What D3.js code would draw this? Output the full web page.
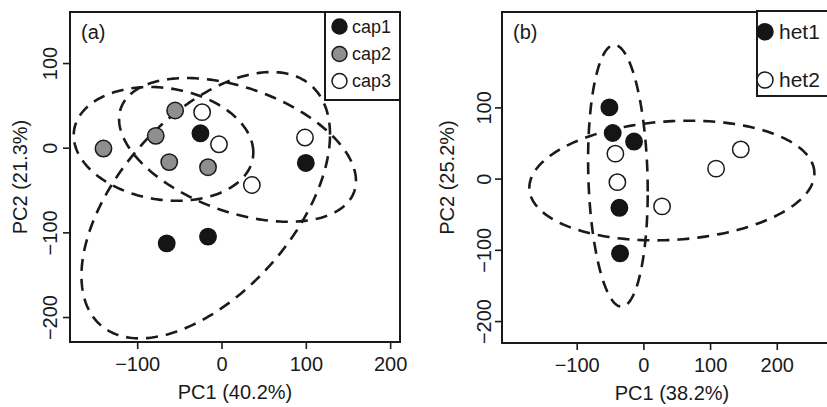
<!DOCTYPE html>
<html>
<head>
<meta charset="utf-8">
<script src="https://cdn.jsdelivr.net/npm/d3@7"></script>
<style>
  html, body { margin: 0; padding: 0; background: #fff; }
  svg { display: block; font-family: "Liberation Sans", Arial, sans-serif; }
</style>
</head>
<body>
<svg id="chart" width="827" height="407"></svg>
<script>
// ---------- DATA ----------
// Panel (a)
const capGroups = ["cap1", "cap2", "cap3"];
const cap1X = [-25, 100, -65, -16];
const cap1Y = [17, -18, -113, -105];
const cap2X = [-140, -78, -55, -62, -16];
const cap2Y = [-1, 14, 44, -17, -23];
const cap3X = [-23, -3, 36, 99];
const cap3Y = [42, 4, -44, 12];
// ellipses (centre, half extents along x / y, correlation)
const capEllCx = [-18.7, -68.8, 19];
const capEllCy = [-67.9, 4.5, -2.6];
const capEllHx = [147.4, 106.5, 140.5];
const capEllHy = [157.3, 67.2, 84.9];
const capEllR = [0.53, -0.15, -0.43];

// Panel (b)
const hetGroups = ["het1", "het2"];
const het1X = [-51, -46, -14, -36, -35];
const het1Y = [100, 64, 52, -41, -105];
const het2X = [-42, -39, 28, 109, 146];
const het2Y = [35, -5, -39, 14, 41];
const hetEllCx = [-38.2, 42.7];
const hetEllCy = [3.9, -2.7];
const hetEllHx = [44.7, 213.7];
const hetEllHy = [183.7, 84];
const hetEllR = [-0.12, 0.12];

// ticks and titles
const aXTicks = [-100, 0, 100, 200];
const aYTicks = [-200, -100, 0, 100];
const bXTicks = [-100, 0, 100, 200];
const bYTicks = [-200, -100, 0, 100];
const aXTitle = "PC1 (40.2%)";
const aYTitle = "PC2 (21.3%)";
const bXTitle = "PC1 (38.2%)";
const bYTitle = "PC2 (25.2%)";

// ---------- STYLE ----------
const fills = { black: "#151515", grey: "#8f8f8f", white: "#ffffff" };
const capFill = [fills.black, fills.grey, fills.white];
const hetFill = [fills.black, fills.white];
const ink = "#1a1a1a";

const svg = d3.select("#chart");

function ellipsePts(cx, cy, hx, hy, r, n = 240) {
  const s = Math.sqrt(1 - r * r);
  return d3.range(n).map(i => {
    const t = (i / n) * 2 * Math.PI;
    return [cx + hx * Math.cos(t), cy + hy * (r * Math.cos(t) + s * Math.sin(t))];
  });
}

function panel(cfg) {
  const g = svg.append("g");
  const x = d3.scaleLinear().domain(cfg.xDomain).range([cfg.left, cfg.right]);
  const y = d3.scaleLinear().domain(cfg.yDomain).range([cfg.bottom, cfg.top]);

  const clipId = "clip" + cfg.name;
  svg.append("clipPath").attr("id", clipId)
    .append("rect").attr("x", cfg.left).attr("y", cfg.top)
    .attr("width", cfg.right - cfg.left).attr("height", cfg.bottom - cfg.top);

  const plot = g.append("g").attr("clip-path", `url(#${clipId})`);

  // ellipses
  const line = d3.line().x(d => x(d[0])).y(d => y(d[1])).curve(d3.curveLinearClosed);
  cfg.ells.forEach(e => {
    plot.append("path")
      .attr("d", line(ellipsePts(e.cx, e.cy, e.hx, e.hy, e.r)))
      .attr("fill", "none").attr("stroke", ink)
      .attr("stroke-width", 2.6)
      .attr("stroke-dasharray", "12,8");
  });

  // points
  cfg.groups.forEach(grp => {
    plot.selectAll(null).data(grp.xs.map((v, i) => [v, grp.ys[i]]))
      .enter().append("circle")
      .attr("cx", d => x(d[0])).attr("cy", d => y(d[1]))
      .attr("r", 8.2)
      .attr("fill", grp.fill)
      .attr("stroke", grp.fill === fills.black ? fills.black : ink)
      .attr("stroke-width", 1.5);
  });

  // axes
  const xa = g.append("g").attr("transform", `translate(0,${cfg.bottom})`)
    .call(d3.axisBottom(x).tickValues(cfg.xTicks).tickSize(7).tickPadding(9)
      .tickFormat(d => d < 0 ? "\u2212" + Math.abs(d) : d));
  xa.select(".domain").remove();
  xa.selectAll(".tick line").attr("stroke", ink).attr("stroke-width", 1.6);
  xa.selectAll(".tick text").attr("font-size", 20).attr("fill", ink)
    .attr("font-family", "Liberation Sans, Arial, sans-serif")
    .attr("y", 0).attr("dy", 0).attr("transform", `translate(0,${cfg.xTickBase})`);

  const ya = g.append("g").attr("transform", `translate(${cfg.left},0)`)
    .call(d3.axisLeft(y).tickValues(cfg.yTicks).tickSize(7)
      .tickFormat(d => d < 0 ? "\u2212" + Math.abs(d) : d));
  ya.select(".domain").remove();
  ya.selectAll(".tick line").attr("stroke", ink).attr("stroke-width", 1.6);
  ya.selectAll(".tick text").attr("font-size", 20).attr("fill", ink)
    .attr("font-family", "Liberation Sans, Arial, sans-serif")
    .attr("x", 0).attr("dy", "0.35em").attr("text-anchor", "middle")
    .attr("transform", `translate(${cfg.yTickOff},0) rotate(-90)`);

  // frame
  g.append("rect").attr("x", cfg.left).attr("y", cfg.top)
    .attr("width", cfg.right - cfg.left).attr("height", cfg.bottom - cfg.top)
    .attr("fill", "none").attr("stroke", ink).attr("stroke-width", 2);

  // titles
  g.append("text").attr("x", (cfg.left + cfg.right) / 2).attr("y", cfg.xTitleBase)
    .attr("text-anchor", "middle").attr("font-size", 20).attr("fill", ink).text(cfg.xTitle);
  g.append("text")
    .attr("transform", `translate(${cfg.yTitleX},${(cfg.top + cfg.bottom) / 2}) rotate(-90)`)
    .attr("text-anchor", "middle").attr("dy", "0.35em")
    .attr("font-size", 20).attr("fill", ink).text(cfg.yTitle);
  g.append("text").attr("x", cfg.left + 11).attr("y", 39)
    .attr("font-size", 20).attr("fill", ink).text(cfg.tag);

  // legend
  const L = cfg.legend;
  g.append("rect").attr("x", L.x).attr("y", L.y).attr("width", L.w).attr("height", L.h)
    .attr("fill", "#fff").attr("stroke", ink).attr("stroke-width", 2);
  L.items.forEach((it, i) => {
    g.append("circle").attr("cx", L.cx).attr("cy", L.rows[i]).attr("r", L.r)
      .attr("fill", it.fill).attr("stroke", it.fill === fills.black ? fills.black : ink)
      .attr("stroke-width", 1.5);
    g.append("text").attr("x", L.tx).attr("y", L.rows[i]).attr("dy", "0.35em")
      .attr("font-size", L.fs).attr("fill", ink).text(it.label);
  });
}

panel({
  name: "a", tag: "(a)",
  left: 70, right: 400, top: 12, bottom: 342,
  xDomain: [-179.7, 211.7], yDomain: [-229.5, 160.3],
  xTicks: aXTicks, yTicks: aYTicks,
  xTickBase: 29, yTickOff: -20,
  xTitle: aXTitle, yTitle: aYTitle, xTitleBase: 399, yTitleX: 20,
  ells: capGroups.map((c, i) => ({ cx: capEllCx[i], cy: capEllCy[i], hx: capEllHx[i], hy: capEllHy[i], r: capEllR[i] })),
  groups: [
    { xs: cap2X, ys: cap2Y, fill: capFill[1] },
    { xs: cap3X, ys: cap3Y, fill: capFill[2] },
    { xs: cap1X, ys: cap1Y, fill: capFill[0] }
  ],
  legend: {
    x: 325, y: 12, w: 75, h: 88, cx: 339.5, tx: 352, r: 7.5, fs: 18,
    rows: [26.5, 54, 81],
    items: capGroups.map((c, i) => ({ label: c, fill: capFill[i] }))
  }
});

panel({
  name: "b", tag: "(b)",
  left: 502, right: 842, top: 12, bottom: 343,
  xDomain: [-212, 297.8], yDomain: [-230.8, 233.9],
  xTicks: bXTicks, yTicks: bYTicks,
  xTickBase: 29, yTickOff: -18.5,
  xTitle: bXTitle, yTitle: bYTitle, xTitleBase: 400, yTitleX: 447,
  ells: hetGroups.map((c, i) => ({ cx: hetEllCx[i], cy: hetEllCy[i], hx: hetEllHx[i], hy: hetEllHy[i], r: hetEllR[i] })),
  groups: [
    { xs: het1X, ys: het1Y, fill: hetFill[0] },
    { xs: het2X, ys: het2Y, fill: hetFill[1] }
  ],
  legend: {
    x: 757, y: 11, w: 100, h: 85, cx: 765, tx: 779, r: 8, fs: 21,
    rows: [31.7, 80],
    items: hetGroups.map((c, i) => ({ label: c, fill: hetFill[i] }))
  }
});
</script>
</body>
</html>
